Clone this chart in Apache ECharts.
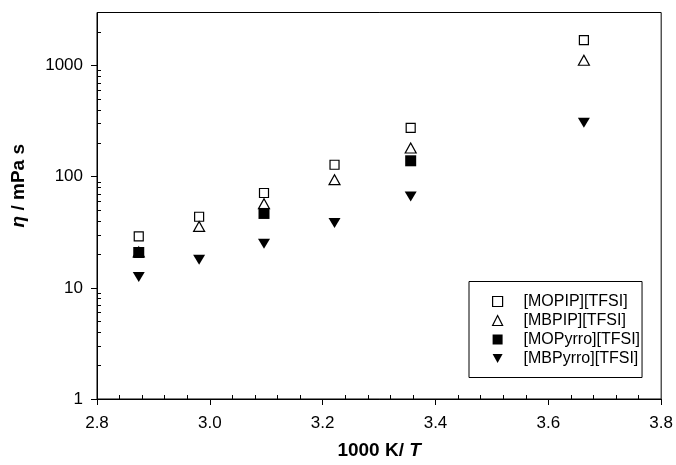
<!DOCTYPE html>
<html>
<head>
<meta charset="utf-8">
<script src="https://cdn.jsdelivr.net/npm/echarts@6/dist/echarts.min.js"></script>
<style>html,body{margin:0;padding:0;background:#fff}#c{width:676px;height:465px}</style>
</head>
<body>
<div id="c"></div>
<script>
// 1000 K / T values (x)
const invT = [2.874, 2.981, 3.096, 3.221, 3.356, 3.663];
// viscosity, mPa s
const MOPIP   = [29.0, 43.6, 71.3, 128, 275, 1690];
const MBPIP   = [21.0, 35.7, 57.1, 94, 181, 1116];
const MOPyrro = [20.8, null, 46.7, null, 139, null];
const MBPyrro = [12.5, 17.9, 24.9, 38.3, 66.5, 305];
const seriesNames = ['[MOPIP][TFSI]', '[MBPIP][TFSI]', '[MOPyrro][TFSI]', '[MBPyrro][TFSI]'];
// tick values
const yMajorTicks = [1, 10, 100, 1000];
const yMinorTicks = [2,3,4,5,6,7,8,9,20,30,40,50,60,70,80,90,200,300,400,500,600,700,800,900,2000,3000];
const xMinorTicks = [2.84,2.88,2.92,2.96,3.04,3.08,3.12,3.16,3.24,3.28,3.32,3.36,3.44,3.48,3.52,3.56,3.64,3.68,3.72,3.76];

function pairs(ys){ const out=[]; ys.forEach((v,i)=>{ if(v!=null) out.push([invT[i], v]); }); return out; }

const FF = '"Liberation Sans", Arial, sans-serif';
const chart = echarts.init(document.getElementById('c'), null, {renderer:'canvas'});
const open = {color:'#fff', borderColor:'#000', borderWidth:1.2, opacity:1};
const fill = {color:'#000', borderColor:'#000', borderWidth:0, opacity:1};
const downTri = 'path://M0,0 L10,0 L5,9 Z';

chart.setOption({
  animation:false,
  backgroundColor:'#fff',
  grid:{left:97, top:12.5, right:14.5, bottom:66, show:true, borderColor:'#000', borderWidth:1, containLabel:false},
  legend:{
    orient:'vertical', left:469, top:281.5,
    padding:[12, 2, 11, 23],
    itemWidth:10, itemHeight:10, itemGap:3,
    borderColor:'#000', borderWidth:1, borderRadius:0,
    textStyle:{fontFamily:FF, fontSize:16, color:'#000', lineHeight:14, padding:[0,0,0,16]},
    data:[
      {name:seriesNames[0], icon:'rect', itemStyle:open},
      {name:seriesNames[1], icon:'triangle', itemStyle:open},
      {name:seriesNames[2], icon:'rect', itemStyle:fill},
      {name:seriesNames[3], icon:downTri, itemStyle:fill}
    ]
  },
  xAxis:[{
    type:'value', min:2.8, max:3.8, interval:0.2,
    position:'bottom',
    name:'{n|1000 K/ }{i|T}', nameLocation:'middle', nameGap:42,
    nameTextStyle:{rich:{
      n:{fontFamily:FF, fontSize:19, fontWeight:'bold', color:'#000'},
      i:{fontFamily:FF, fontSize:19, fontWeight:'bold', fontStyle:'italic', color:'#000'}
    }},
    axisLine:{show:true, lineStyle:{color:'#000', width:1}},
    axisTick:{show:true, inside:false, length:6, lineStyle:{color:'#000'}},
    axisLabel:{fontFamily:FF, fontSize:17, color:'#000', margin:16, formatter:v=>v.toFixed(1)},
    splitLine:{show:false}
  },{
    type:'value', min:2.8, max:3.8, position:'bottom',
    axisLine:{show:false}, axisLabel:{show:false}, splitLine:{show:false},
    axisTick:{show:true, inside:true, length:4, customValues:xMinorTicks, lineStyle:{color:'#000'}}
  }],
  yAxis:[{
    type:'log', logBase:10, min:1, max:3000, position:'left',
    name:'{i|η}{n| / mPa s}', nameLocation:'middle', nameGap:69, nameRotate:90,
    nameTextStyle:{padding:[0,0,0,40], rich:{
      n:{fontFamily:FF, fontSize:19, fontWeight:'bold', color:'#000'},
      i:{fontFamily:FF, fontSize:19, fontWeight:'bold', fontStyle:'italic', color:'#000'}
    }},
    axisLine:{show:true, lineStyle:{color:'#000', width:1}},
    axisTick:{show:true, inside:false, length:6, customValues:yMajorTicks, lineStyle:{color:'#000'}},
    axisLabel:{fontFamily:FF, fontSize:17, color:'#000', margin:14, customValues:yMajorTicks, formatter:v=>String(Math.round(v))},
    splitLine:{show:false}
  },{
    type:'log', logBase:10, min:1, max:3000, position:'left',
    axisLine:{show:false}, axisLabel:{show:false}, splitLine:{show:false},
    axisTick:{show:true, inside:true, length:4, customValues:yMinorTicks, lineStyle:{color:'#000'}}
  }],
  series:[
    {name:seriesNames[0], type:'scatter', symbol:'rect', symbolSize:9, itemStyle:open, data:pairs(MOPIP)},
    {name:seriesNames[1], type:'scatter', symbol:'triangle', symbolSize:[11,10], itemStyle:open, data:pairs(MBPIP)},
    {name:seriesNames[2], type:'scatter', symbol:'rect', symbolSize:11, itemStyle:fill, data:pairs(MOPyrro)},
    {name:seriesNames[3], type:'scatter', symbol:'triangle', symbolRotate:180, symbolSize:[12,10], itemStyle:fill, data:pairs(MBPyrro)}
  ]
});
</script>
</body>
</html>
